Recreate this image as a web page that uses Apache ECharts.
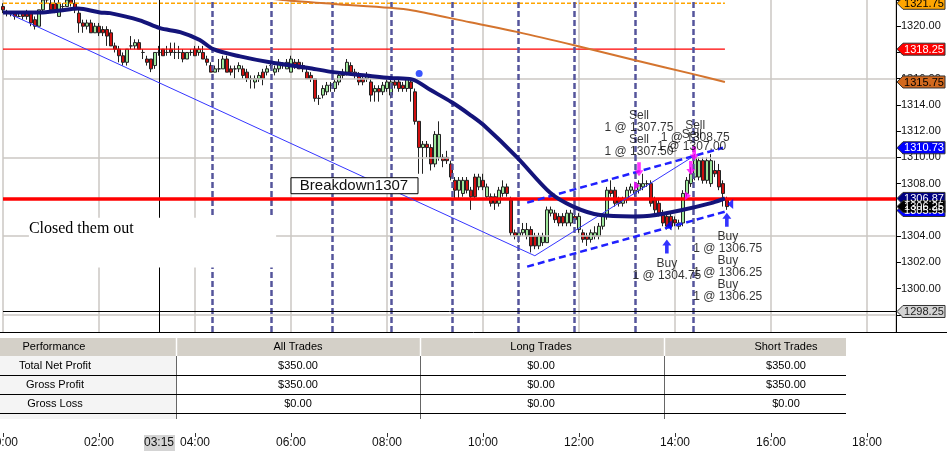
<!DOCTYPE html>
<html>
<head>
<meta charset="utf-8">
<script src="https://cdn.jsdelivr.net/npm/echarts@6/dist/echarts.min.js"></script>
<style>
  html, body { margin: 0; padding: 0; background: #fff; }
  #chart { width: 947px; height: 457px; }
</style>
</head>
<body>
<div id="chart"></div>
<script>
// 5 minute bars starting 00:00, each row [open, close, low, high]
const barMinutes = 5
const candles = [
  [1321.5,1321.25,1321.0,1321.75],[1321.0,1321.0,1320.75,1321.25],[1321.0,1321.0,1320.75,1321.0],[1321.0,1320.75,1320.5,1321.0],
  [1320.75,1320.75,1320.75,1321.0],[1321.0,1320.75,1320.5,1321.0],[1321.0,1320.75,1320.5,1321.25],[1321.0,1320.25,1320.0,1321.0],
  [1320.5,1320.0,1319.75,1320.75],[1320.0,1321.25,1320.0,1321.25],[1321.25,1322.0,1321.0,1322.5],[1322.0,1322.5,1321.75,1323.0],
  [1321.75,1321.25,1321.0,1322.25],[1321.75,1321.25,1321.0,1322.0],[1320.75,1321.75,1320.75,1322.0],[1321.5,1321.5,1321.25,1321.75],
  [1321.5,1322.0,1321.5,1322.25],[1322.0,1321.75,1321.5,1322.25],[1321.75,1321.25,1321.0,1322.0],[1321.0,1320.25,1319.5,1321.25],
  [1320.25,1320.0,1319.5,1320.5],[1320.0,1320.25,1319.75,1320.5],[1320.25,1319.5,1319.5,1320.5],[1319.5,1320.0,1319.5,1320.25],
  [1320.0,1319.5,1319.25,1320.25],[1319.75,1319.5,1319.25,1320.0],[1319.75,1319.25,1318.5,1320.0],[1319.5,1318.5,1318.5,1319.75],
  [1318.5,1318.25,1318.0,1318.75],[1318.25,1317.75,1317.25,1318.5],[1317.75,1317.25,1317.0,1318.0],[1317.25,1318.25,1317.0,1318.25],
  [1318.5,1318.5,1318.25,1319.25],[1318.5,1318.75,1318.25,1319.0],[1318.75,1318.25,1318.25,1319.0],[1318.0,1318.0,1317.5,1318.25],
  [1317.5,1317.25,1317.0,1317.75],[1317.5,1316.75,1316.5,1317.5],[1317.0,1318.0,1316.75,1318.0],[1318.0,1318.0,1317.75,1318.5],
  [1318.25,1317.75,1317.75,1318.25],[1318.0,1318.0,1317.75,1318.5],[1318.25,1318.0,1317.75,1318.75],[1318.0,1318.0,1317.5,1318.75],
  [1318.0,1318.0,1317.5,1318.5],[1318.0,1317.5,1317.25,1318.25],[1317.5,1318.0,1317.5,1318.0],[1318.0,1318.0,1317.75,1318.25],
  [1318.25,1317.75,1317.75,1318.5],[1318.0,1318.25,1317.75,1318.5],[1318.0,1317.5,1317.5,1318.5],[1317.5,1317.25,1317.0,1317.75],
  [1317.0,1316.5,1316.5,1317.25],[1316.5,1316.75,1316.5,1317.0],[1316.75,1316.75,1316.5,1317.5],[1316.75,1317.5,1316.75,1317.75],
  [1317.5,1316.5,1316.5,1317.75],[1316.75,1316.5,1316.25,1317.0],[1316.75,1316.75,1316.0,1317.0],[1316.75,1317.0,1316.5,1317.25],
  [1316.75,1316.25,1316.0,1317.0],[1316.5,1316.0,1315.75,1316.75],[1316.0,1316.0,1315.25,1316.25],[1315.75,1316.0,1315.25,1316.25],
  [1316.0,1316.25,1315.75,1316.5],[1316.5,1316.0,1315.5,1316.75],[1316.5,1316.75,1316.25,1317.0],[1317.0,1317.0,1316.75,1317.25],
  [1316.5,1316.75,1316.25,1317.0],[1316.75,1317.25,1316.5,1317.5],[1317.0,1317.0,1316.75,1317.25],[1316.75,1317.25,1316.75,1317.5],
  [1316.5,1317.5,1316.5,1317.75],[1317.25,1317.0,1316.75,1317.5],[1317.25,1316.75,1316.75,1317.5],[1317.0,1316.75,1316.5,1317.25],
  [1316.5,1316.0,1316.0,1316.75],[1316.25,1316.0,1315.75,1316.5],[1316.0,1314.5,1314.25,1316.0],[1314.5,1314.5,1314.0,1314.75],
  [1314.75,1315.25,1314.5,1315.5],[1315.0,1315.5,1314.75,1315.75],[1315.5,1315.5,1315.0,1315.75],[1315.25,1315.75,1315.0,1316.0],
  [1315.75,1316.25,1315.5,1316.5],[1316.25,1316.5,1316.0,1316.75],[1316.5,1317.25,1316.25,1317.5],[1317.0,1316.5,1316.25,1317.25],
  [1316.5,1316.25,1316.0,1316.75],[1316.25,1315.75,1315.5,1316.5],[1316.0,1315.75,1315.5,1316.25],[1316.0,1316.25,1315.75,1316.5],
  [1315.75,1314.75,1314.25,1316.0],[1315.0,1315.25,1314.25,1315.5],[1315.25,1315.0,1314.25,1315.5],[1315.0,1315.5,1314.75,1315.75],
  [1315.25,1315.75,1315.0,1316.0],[1314.75,1315.75,1314.5,1316.0],[1315.75,1315.5,1315.25,1316.0],[1315.75,1315.25,1315.0,1316.0],
  [1315.5,1315.25,1315.0,1315.75],[1315.25,1316.0,1315.0,1316.0],[1315.75,1315.25,1314.25,1316.0],[1315.0,1312.75,1312.5,1315.25],
  [1312.75,1310.75,1308.75,1312.75],[1310.75,1311.0,1308.75,1311.25],[1311.0,1310.75,1310.0,1311.25],[1310.75,1309.5,1309.0,1311.0],
  [1309.5,1311.75,1309.25,1312.0],[1310.0,1311.75,1309.75,1312.75],[1310.0,1309.75,1309.25,1310.25],[1310.0,1309.75,1309.5,1310.5],
  [1309.5,1308.5,1308.25,1309.75],[1308.25,1307.5,1306.75,1308.5],[1307.5,1308.25,1306.75,1308.5],[1307.25,1308.25,1307.0,1308.5],
  [1308.25,1307.5,1307.25,1308.5],[1307.5,1307.0,1306.0,1307.75],[1308.5,1307.0,1306.75,1308.75],[1307.75,1308.5,1307.5,1308.75],
  [1308.25,1307.75,1307.5,1308.75],[1307.0,1307.75,1306.75,1308.0],[1307.0,1306.5,1306.25,1307.25],[1307.0,1306.5,1306.0,1307.25],
  [1306.5,1307.5,1306.25,1307.75],[1307.25,1307.75,1307.0,1308.25],[1307.75,1307.25,1307.0,1308.0],[1306.75,1304.25,1304.0,1307.0],
  [1304.25,1304.0,1303.75,1304.5],[1304.0,1304.25,1303.5,1304.5],[1304.25,1304.5,1304.0,1305.0],[1304.0,1304.5,1303.75,1305.0],
  [1304.5,1303.25,1302.75,1304.75],[1304.0,1303.25,1303.0,1304.25],[1303.25,1304.0,1303.0,1304.25],[1303.5,1304.0,1303.25,1304.25],
  [1303.5,1306.0,1303.5,1306.25],[1305.75,1306.0,1305.5,1306.25],[1305.75,1305.25,1305.0,1306.0],[1305.5,1305.0,1304.75,1305.75],
  [1305.5,1305.0,1304.75,1305.75],[1305.0,1305.75,1304.75,1306.0],[1305.0,1305.75,1304.75,1306.0],[1305.5,1305.25,1305.0,1305.75],
  [1304.5,1305.5,1304.25,1305.75],[1304.25,1303.75,1303.5,1304.5],[1304.0,1303.75,1303.25,1304.25],[1303.75,1304.25,1303.5,1304.5],
  [1304.0,1304.25,1303.75,1304.75],[1304.0,1304.75,1303.75,1305.0],[1304.75,1305.5,1304.5,1305.75],[1305.5,1307.5,1305.25,1307.75],
  [1307.5,1307.25,1307.0,1308.25],[1307.5,1306.5,1306.25,1307.75],[1306.75,1306.5,1306.25,1307.0],[1306.5,1306.75,1306.25,1307.0],
  [1306.75,1307.5,1306.5,1307.75],[1307.5,1307.75,1307.25,1308.0],[1307.25,1307.5,1307.0,1307.75],[1307.5,1308.0,1307.25,1308.25],
  [1307.75,1308.0,1307.5,1308.75],[1308.0,1308.0,1307.75,1308.25],[1308.0,1306.5,1306.25,1308.25],[1306.75,1306.0,1305.75,1307.0],
  [1306.5,1305.75,1305.5,1306.75],[1305.75,1305.0,1304.75,1306.0],[1305.5,1304.75,1304.5,1305.75],[1305.5,1304.75,1304.5,1305.75],
  [1305.25,1305.0,1304.75,1305.5],[1304.75,1305.0,1304.5,1305.25],[1305.0,1307.25,1304.75,1307.5],[1307.25,1308.25,1307.0,1308.5],
  [1308.0,1308.75,1307.75,1309.25],[1308.5,1310.0,1308.25,1310.25],[1308.5,1309.75,1308.25,1310.0],[1309.75,1308.25,1308.0,1310.0],
  [1308.25,1309.75,1308.0,1310.0],[1308.0,1309.75,1307.75,1310.25],[1309.0,1308.75,1308.5,1309.75],[1309.0,1307.75,1307.5,1309.5],
  [1308.0,1307.25,1306.25,1308.25],[1306.75,1306.25,1306.0,1307.0]
]

// moving averages, [hour, price]
const fastMa = [
  [0,1321.05],[0.77,1321.05],[1.19,1321.2],[1.56,1321.35],[2.02,1321.05],[2.23,1321.0],[2.85,1320.45],
  [3.27,1319.85],[3.69,1319.55],[4.1,1318.95],[4.38,1318.25],[4.94,1317.7],[5.56,1317.25],[6.4,1316.8],
  [6.88,1316.5],[7.65,1316.2],[8.06,1316.05],[8.52,1315.95],[8.9,1315.15],[9.35,1314.2],[9.73,1313.25],
  [10.0,1312.5],[10.71,1310.0],[11.4,1307.3],[11.88,1306.25],[12.44,1305.6],[13.13,1305.5],[13.48,1305.55],
  [14.1,1305.95],[14.79,1306.55],[15.04,1306.87]
]
const slowMa = [
  [5.0,1322.35],[5.83,1322.0],[6.88,1321.7],[8.06,1321.4],[8.54,1321.2],[9.73,1320.3],[10.73,1319.55],
  [11.9,1318.55],[13.17,1317.4],[14.38,1316.35],[15.04,1315.75]
]

// drawn lines
const trendLines = [
  [[0,1321.17],[11.08,1302.5]],
  [[11.08,1302.5],[14.35,1310.0]]
]
const channelLines = [
  [[10.92,1306.55],[15.0,1310.73]],
  [[10.92,1301.67],[15.08,1305.9]]
]
const signalTimes = [4.354, 5.583, 6.854, 8.083, 9.354, 10.729, 11.896, 13.167, 14.375]
const gridPrices = [1298, 1304, 1310, 1316]
const orangeLevel = 1321.75
const redLevel = 1318.25
const breakLevel = 1306.87
const levelEnd = 15.04
const crossTime = 3.25
const crossPrice = 1298.25
const dotPoint = [[8.67, 1316.4]]

// trades
const sellArrows = [[13.25,1309.1],[14.40,1310.3],[14.33,1309.2]]
const sellFills = [[13.21,1307.83],[14.27,1307.07]]
const buyArrows = [[13.83,1303.2],[15.08,1305.25]]
const buyFills = [[13.87,1304.8],[15.15,1306.45]]
const tradeTexts = [
  [13.25,1311.8,'Sell\n1 @ 1307.75\nSell\n1 @ 1307.50'],
  [14.42,1311.98,'Sell\n1 @ 1308.75'],
  [14.35,1311.3,'Sell\n1 @ 1307.00'],
  [13.83,1301.45,'Buy\n1 @ 1304.75'],
  [15.1,1301.65,'Buy\n1 @ 1306.75\nBuy\n1 @ 1306.25\nBuy\n1 @ 1306.25']
]

// price tags on the right axis
const tags = [
  [1321.75,'#ffa500','#000'],
  [1318.25,'#ff0000','#fff'],
  [1315.75,'#d2691e','#000'],
  [1310.73,'#0000ff','#fff'],
  [1305.95,'#0000ff','#fff'],
  [1306.87,'#000080','#fff'],
  [1306.25,'#000000','#fff'],
  [1298.25,'#d3d3d3','#222']
]

// performance table
const tableHeader = ['Performance','All Trades','Long Trades','Short Trades']
const tableRows = [
  ['Total Net Profit','$350.00','$0.00','$350.00'],
  ['Gross Profit','$350.00','$0.00','$350.00'],
  ['Gross Loss','$0.00','$0.00','$0.00']
]

const FONT = '"Liberation Sans", Arial, sans-serif'
const pad = (n) => (n < 10 ? '0' : '') + n

const candleData = candles.map((c, i) => [i * barMinutes / 60, c[0], c[1], c[2], c[3]])

const noSym = ['none', 'none']

// one helper series per styled set of reference lines
const lineSeries = (z, lineStyle, data) => ({
  type: 'line',
  z: z,
  data: [],
  symbol: 'none',
  markLine: { silent: true, symbol: noSym, label: { show: false }, lineStyle: lineStyle, data: data }
})

// plain two point segment drawn as its own line series
const segment = (z, points, lineStyle) => ({
  type: 'line',
  z: z,
  data: points,
  symbol: 'none',
  silent: true,
  itemStyle: { color: lineStyle.color },
  lineStyle: lineStyle
})

const chart = echarts.init(document.getElementById('chart'))

chart.setOption({
  animation: false,
  backgroundColor: '#fff',
  grid: { left: 3, right: 51, top: 0, bottom: 116, containLabel: false, outerBoundsMode: 'none' },
  xAxis: {
    type: 'value',
    min: 0,
    max: 893 / 48,
    interval: 2,
    offset: 92,
    axisLine: { show: false, onZero: false },
    axisTick: { show: true, length: 4, lineStyle: { color: '#333' } },
    axisLabel: {
      margin: 4,
      color: '#111',
      fontSize: 12,
      fontFamily: FONT,
      showMaxLabel: false,
      formatter: (v) => (v % 2 === 0 && v <= 18 ? pad(v) + ':00' : '')
    },
    splitLine: { show: true, lineStyle: { color: '#cbc7c3', width: 1.5 } }
  },
  yAxis: {
    type: 'value',
    position: 'right',
    min: 1296,
    max: 1322,
    interval: 2,
    axisLine: { show: true, onZero: false, lineStyle: { color: '#000' } },
    axisTick: { show: true, length: 5, lineStyle: { color: '#000' } },
    axisLabel: {
      margin: 5,
      color: '#111',
      fontSize: 11,
      fontFamily: FONT,
      formatter: (v) => (v > 1321 ? '' : v.toFixed(2))
    },
    splitLine: { show: false }
  },
  series: [
    lineSeries(1, { color: '#cbc7c3', width: 1.5, type: 'solid' }, gridPrices.map((p) => ({ yAxis: p }))),
    lineSeries(2, { color: '#55559c', width: 2.5, type: [6, 3] }, signalTimes.map((t) => ({ xAxis: t }))),
    lineSeries(2, { color: '#000', width: 1, type: 'solid' }, [{ xAxis: crossTime }, { yAxis: crossPrice }]),
    {
      type: 'candlestick',
      z: 3,
      barWidth: 4,
      clip: false,
      encode: { x: 0, y: [1, 2, 3, 4] },
      data: candleData,
      itemStyle: {
        color: '#9ee69a',
        color0: '#d01010',
        borderColor: '#222',
        borderColor0: '#222',
        borderWidth: 1
      }
    },
    segment(4, [[0, orangeLevel], [levelEnd, orangeLevel]], { color: '#ffa500', width: 1.6, type: [4, 2] }),
    segment(4, [[0, redLevel], [levelEnd, redLevel]], { color: '#ff0000', width: 1.2, type: 'solid' }),
    lineSeries(4, { color: '#ff0000', width: 3.5, type: 'solid' }, [{ yAxis: breakLevel }]),
    ...trendLines.map((l) => segment(5, l, { color: '#3535ff', width: 1, type: 'solid' })),
    ...channelLines.map((l) => segment(5, l, { color: '#2020ff', width: 2.5, type: [7, 4] })),
    {
      type: 'line',
      z: 5,
      data: slowMa,
      symbol: 'none',
      smooth: 0.3,
      lineStyle: { color: '#d4742e', width: 2 }
    },
    {
      type: 'line',
      z: 6,
      data: fastMa,
      symbol: 'none',
      smooth: 0.3,
      lineStyle: { color: '#14147a', width: 4 }
    },
    {
      type: 'scatter',
      z: 7,
      data: dotPoint,
      symbol: 'circle',
      symbolSize: 7,
      itemStyle: { color: '#0a2cff' }
    },
    {
      type: 'scatter',
      z: 8,
      data: sellArrows,
      symbol: 'path://M3,0L7,0L7,8L10,8L5,14L0,8L3,8Z',
      symbolSize: [9, 14],
      itemStyle: { color: '#ff00ff' }
    },
    {
      type: 'scatter',
      z: 8,
      data: sellFills,
      symbol: 'path://M0,0L6,4L0,8Z',
      symbolSize: [6, 9],
      itemStyle: { color: '#ff00ff' }
    },
    {
      type: 'scatter',
      z: 8,
      data: buyArrows,
      symbol: 'path://M3,14L7,14L7,6L10,6L5,0L0,6L3,6Z',
      symbolSize: [9, 14],
      itemStyle: { color: '#0000ff' }
    },
    {
      type: 'scatter',
      z: 8,
      data: buyFills,
      symbol: 'path://M6,0L0,4L6,8Z',
      symbolSize: [6, 10],
      itemStyle: { color: '#0000ff' }
    },
    {
      type: 'scatter',
      z: 9,
      data: tradeTexts,
      symbolSize: 1,
      itemStyle: { color: 'rgba(0,0,0,0)' },
      label: {
        show: true,
        position: 'inside',
        formatter: (p) => p.data[2],
        color: '#000',
        fontSize: 12,
        lineHeight: 12,
        fontFamily: FONT
      }
    }
  ]
})

// overlays placed through the chart's own scales
const toPx = (t, p) => chart.convertToPixel({ xAxisIndex: 0, yAxisIndex: 0 }, [t, p])
const axisX = toPx(893 / 48, 1300)[0]
const g = []

// Breakdown label box
const bk = toPx(6.0, 1308.45)
g.push({ type: 'rect', z: 100, shape: { x: bk[0], y: bk[1], width: 127, height: 16 }, style: { fill: '#fff', stroke: '#000', lineWidth: 1 } })
g.push({ type: 'text', z: 101, style: { text: 'Breakdown1307', x: bk[0] + 63, y: bk[1] + 8, align: 'center', verticalAlign: 'middle', font: '15px ' + FONT, fill: '#111' } })

// note box
const nb = toPx(0.54, 1305.4)
const ne = toPx(5.69, 1301.6)
g.push({ type: 'rect', z: 100, shape: { x: nb[0], y: nb[1], width: ne[0] - nb[0], height: ne[1] - nb[1] }, style: { fill: '#fff' } })
g.push({ type: 'text', z: 101, style: { text: 'Closed them out', x: nb[0], y: toPx(0, 1304.56)[1], align: 'left', verticalAlign: 'middle', font: '16px "Liberation Serif", "Times New Roman", serif', fill: '#000' } })

// bottom panel
g.push({ type: 'rect', z: 100, shape: { x: 0, y: 333, width: 947, height: 88 }, style: { fill: '#fff' } })
g.push({ type: 'line', z: 101, shape: { x1: 0, y1: 332.5, x2: 947, y2: 332.5 }, style: { stroke: '#000', lineWidth: 1 } })

// table
const colX = [0, 176, 420, 664, 846]
const textX = [55, 298, 541, 786]
const headTop = 338
const headH = 18
const rowH = 19
const tableBottom = 419
g.push({ type: 'rect', z: 101, shape: { x: 0, y: headTop, width: colX[4], height: headH }, style: { fill: '#d4d0c8' } })
g.push({ type: 'rect', z: 101, shape: { x: 0, y: headTop + headH, width: colX[1], height: tableBottom - headTop - headH }, style: { fill: '#f4f4f4' } })
for (let c = 1; c < 4; c++) {
  g.push({ type: 'line', z: 102, shape: { x1: colX[c] + 0.5, y1: headTop, x2: colX[c] + 0.5, y2: headTop + headH }, style: { stroke: '#fff', lineWidth: 1.5 } })
  g.push({ type: 'line', z: 102, shape: { x1: colX[c] + 0.5, y1: headTop + headH, x2: colX[c] + 0.5, y2: tableBottom }, style: { stroke: '#666', lineWidth: 1 } })
}
tableHeader.forEach((h, c) => {
  g.push({ type: 'text', z: 103, style: { text: h, x: c === 0 ? 54 : textX[c], y: headTop + headH / 2, align: 'center', verticalAlign: 'middle', font: '11px ' + FONT, fill: '#000' } })
})
tableRows.forEach((row, r) => {
  const yTop = headTop + headH + r * rowH
  g.push({ type: 'line', z: 102, shape: { x1: 0, y1: yTop + rowH + 0.5, x2: colX[4], y2: yTop + rowH + 0.5 }, style: { stroke: '#000', lineWidth: 1.2 } })
  row.forEach((cell, c) => {
    g.push({ type: 'text', z: 103, style: { text: cell, x: textX[c], y: yTop + rowH / 2, align: 'center', verticalAlign: 'middle', font: '11px ' + FONT, fill: '#000' } })
  })
})

// crosshair time box
const cx = toPx(crossTime, 1300)[0]
g.push({ type: 'rect', z: 100, shape: { x: cx - 15, y: 435, width: 31, height: 16 }, style: { fill: '#d4d4d4' } })
g.push({ type: 'text', z: 101, style: { text: pad(Math.floor(crossTime)) + ':' + pad(Math.round((crossTime % 1) * 60)), x: cx, y: 443, align: 'center', verticalAlign: 'middle', font: '12px ' + FONT, fill: '#111' } })

// price tags
tags.forEach(([v, bg, fg]) => {
  const y = toPx(0, v)[1]
  g.push({
    type: 'polygon', z: 110,
    shape: { points: [[axisX + 1, y], [axisX + 7, y - 6], [axisX + 49, y - 6], [axisX + 49, y + 6], [axisX + 7, y + 6]] },
    style: { fill: bg, stroke: '#333', lineWidth: 1 }
  })
  g.push({ type: 'text', z: 111, style: { text: v.toFixed(2), x: axisX + 28, y: y + 0.5, align: 'center', verticalAlign: 'middle', font: '11px ' + FONT, fill: fg } })
})

chart.setOption({ graphic: g })
</script>
</body>
</html>
